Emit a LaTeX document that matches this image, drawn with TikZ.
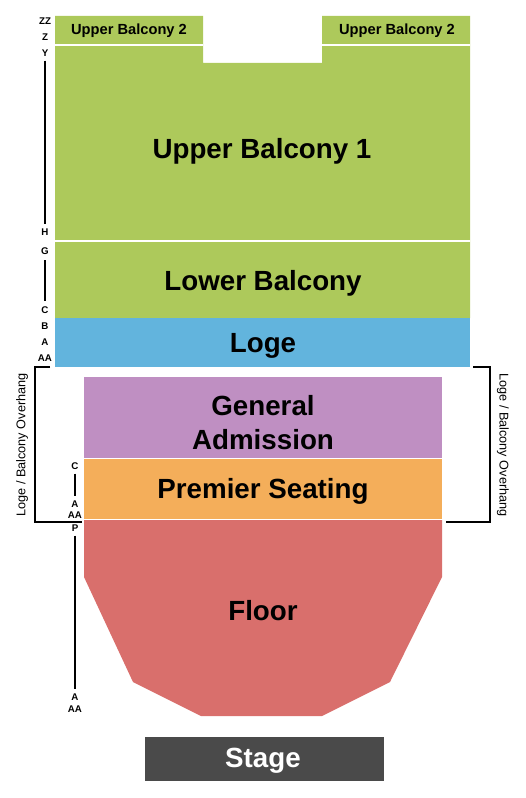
\documentclass[tikz,border=0pt]{standalone}
\usepackage{fontspec}
\setmainfont{Liberation Sans}
\definecolor{grn}{RGB}{173,201,91}
\definecolor{blu}{RGB}{98,180,221}
\definecolor{pur}{RGB}{191,143,194}
\definecolor{org}{RGB}{244,174,90}
\definecolor{redd}{RGB}{217,111,108}
\definecolor{stg}{RGB}{74,74,74}
\begin{document}
\begin{tikzpicture}[x=0.75pt,y=-0.75pt,
  big/.style={font=\fontsize{20.8}{25.5}\selectfont\bfseries, text=black, align=center},
  mid/.style={font=\fontsize{11}{12}\selectfont\bfseries, text=black},
  row/.style={font=\fontsize{7.3}{8}\selectfont\bfseries, text=black, inner sep=0pt},
  ovh/.style={font=\fontsize{9.5}{11}\selectfont, text=black, inner sep=0pt},
  sep/.style={white, line width=1pt},
  brk/.style={black, line width=1pt},
  rl/.style={black, line width=1pt}]
\useasboundingbox (0,0) rectangle (525,798);
% green balconies
\fill[grn] (55,16) -- (203,16) -- (203,63) -- (322,63) -- (322,16) -- (470,16) -- (470,318) -- (55,318) -- cycle;
\draw[sep] (55,45) -- (203,45);
\draw[sep] (322,45) -- (470,45);
\draw[sep] (55,241) -- (470,241);
% loge
\fill[blu] (55,318) rectangle (470,367);
% GA
\fill[pur] (84,377) rectangle (442,458);
\fill[org] (84,459) rectangle (442,519);
\fill[redd] (84,520) -- (442,520) -- (442,577) -- (390,682) -- (322,716) -- (201,716) -- (133,682) -- (84,577) -- cycle;
\fill[stg] (145,737) rectangle (384,781);
% labels
\node[mid] (ub2l) at (129,31) {Upper Balcony 2};
\node[mid] (ub2r) at (397,31) {Upper Balcony 2};
\node[big] (ub1) at (262,151) {Upper Balcony 1};
\node[big] (lb) at (263,283) {Lower Balcony};
\node[big] (loge) at (263,346) {Loge};
\node[big] (ga) at (263,423) {General\\Admission};
\node[big] (ps) at (263,491) {Premier Seating};
\node[big] (fl) at (263,611) {Floor};
\node[big, text=white] (st) at (263,761) {Stage};
% row labels top
\node[row] (zz) at (45,21) {ZZ};
\node[row] (z) at (45,37) {Z};
\node[row] (y) at (45,53) {Y};
\node[row] (h) at (45,232) {H};
\node[row] (g) at (45,251) {G};
\node[row] (c1) at (45,310) {C};
\node[row] (b1) at (45,326) {B};
\node[row] (a1) at (45,342) {A};
\node[row] (aa1) at (45,358) {AA};
\draw[rl] ([yshift=-3pt]y.south) -- ([yshift=3pt]h.north);
\draw[rl] ([yshift=-4pt]g.south) -- ([yshift=4pt]c1.north);
% row labels lower
\node[row] (c2) at (75,466) {C};
\node[row] (a2) at (75,504) {A};
\node[row] (aa2) at (75,515) {AA};
\node[row] (p) at (75,528) {P};
\node[row] (a3) at (75,697) {A};
\node[row] (aa3) at (75,709) {AA};
\draw[rl] ([yshift=-3pt]c2.south) -- ([yshift=3pt]a2.north);
\draw[rl] ([yshift=-3pt]p.south) -- ([yshift=3pt]a3.north);
% overhang brackets
\coordinate (lt) at (50,367);
\coordinate (lb1) at (82,522);
\draw[brk] (lt) -- (35,367) -- (35,522) -- (lb1);
\coordinate (rt) at (473,367);
\coordinate (rb) at (446,522);
\draw[brk] (rt) -- (490,367) -- (490,522) -- (rb);
\node[ovh, rotate=90] (ovl) at (22,445) {Loge / Balcony Overhang};
\node[ovh, rotate=-90] (ovr) at (503,445) {Loge / Balcony Overhang};
\end{tikzpicture}
\end{document}
